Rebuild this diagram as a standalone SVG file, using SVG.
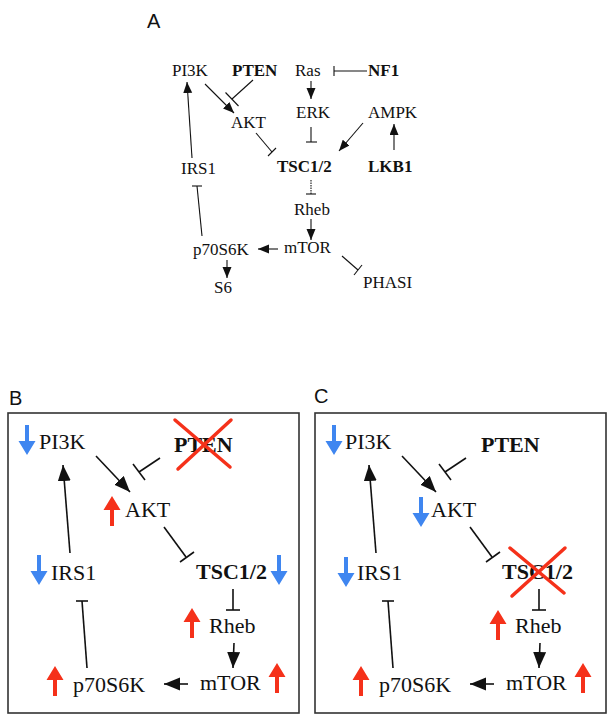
<svg xmlns="http://www.w3.org/2000/svg" xmlns:xlink="http://www.w3.org/1999/xlink" width="614" height="723" viewBox="0 0 614 723">
<style>
.a{font-family:"Liberation Serif","Times New Roman",serif;font-size:17px;fill:#111}
.b{font-family:"Liberation Serif","Times New Roman",serif;font-size:22px;fill:#111}
.bold{font-weight:bold}
.lbl{font-family:"Liberation Sans",Arial,sans-serif;font-size:20px;fill:#111}
.ca{stroke:#111;stroke-width:1.1;fill:none}
.cb{stroke:#111;stroke-width:1.6;fill:none}
.arA{marker-end:url(#hA)}
.arB{marker-end:url(#hB)}
.box{fill:none;stroke:#333;stroke-width:1.6}
.x{stroke:#f5311a;stroke-width:3.5;stroke-linecap:round}
.up{fill:#f5311a}
.dn{fill:#3f86f0}
</style>
<defs>
<marker id="hA" markerUnits="userSpaceOnUse" markerWidth="14" markerHeight="12" refX="11" refY="4.5" orient="auto"><path d="M0,0 L11,4.5 L0,9 z" fill="#111"/></marker>
<marker id="hB" markerUnits="userSpaceOnUse" markerWidth="18" markerHeight="16" refX="16" refY="6.5" orient="auto"><path d="M0,0 L16,6.5 L0,13 z" fill="#111"/></marker>
<path id="upArr" d="M0,0 L8.5,14 H2 V30 H-2 V14 H-8.5 z"/>
<path id="dnArr" d="M0,30 L8.5,16 H2 V0 H-2 V16 H-8.5 z"/>
</defs>

<text class="lbl" x="147" y="28" font-size="21">A</text>

<g id="panelA">
<g id="connectorsA">
<line class="ca arA" x1="192" y1="158" x2="187" y2="82"/>
<line class="ca arA" x1="205" y1="84" x2="234" y2="113"/>
<line class="ca" x1="253" y1="80" x2="232" y2="99"/>
<line class="ca" x1="225.5" y1="92.5" x2="238.5" y2="106"/>
<line class="ca arA" x1="311" y1="81" x2="311" y2="99"/>
<line class="ca" x1="311" y1="127" x2="311" y2="142"/>
<line class="ca" x1="306" y1="142" x2="317" y2="142"/>
<line class="ca arA" x1="363" y1="123" x2="339" y2="151"/>
<line class="ca arA" x1="394" y1="150" x2="394" y2="124"/>
<line class="ca" x1="256" y1="133" x2="272" y2="152"/>
<line class="ca" x1="268" y1="156" x2="276" y2="148"/>
<line class="ca" x1="334" y1="71" x2="367" y2="71"/>
<line class="ca" x1="334" y1="66" x2="334" y2="76"/>
<line class="ca" x1="311" y1="180" x2="311" y2="194" stroke-dasharray="1.5,1"/>
<line class="ca" x1="306" y1="194" x2="316" y2="194"/>
<line class="ca arA" x1="311" y1="219" x2="311" y2="240"/>
<line class="ca arA" x1="278" y1="249" x2="258" y2="249"/>
<line class="ca" x1="202" y1="236" x2="197" y2="186"/>
<line class="ca" x1="192" y1="186" x2="202" y2="186"/>
<line class="ca arA" x1="227" y1="260" x2="227" y2="278"/>
<line class="ca" x1="342" y1="256" x2="358" y2="270"/>
<line class="ca" x1="354" y1="275" x2="362" y2="265"/>
</g>
<g id="A-PI3K"><text class="a" x="172" y="76">PI3K</text></g>
<g id="A-PTEN"><text class="a bold" x="232" y="76">PTEN</text></g>
<g id="A-Ras"><text class="a" x="295" y="76">Ras</text></g>
<g id="A-NF1"><text class="a bold" x="368" y="76">NF1</text></g>
<g id="A-AKT"><text class="a" x="231" y="128">AKT</text></g>
<g id="A-ERK"><text class="a" x="296" y="118">ERK</text></g>
<g id="A-AMPK"><text class="a" x="368" y="118">AMPK</text></g>
<g id="A-IRS1"><text class="a" x="181" y="174">IRS1</text></g>
<g id="A-TSC"><text class="a bold" x="277" y="172">TSC1/2</text></g>
<g id="A-LKB1"><text class="a bold" x="368" y="172">LKB1</text></g>
<g id="A-Rheb"><text class="a" x="294" y="215">Rheb</text></g>
<g id="A-mTOR"><text class="a" x="284" y="253">mTOR</text></g>
<g id="A-p70S6K"><text class="a" x="193" y="255">p70S6K</text></g>
<g id="A-S6"><text class="a" x="214" y="293">S6</text></g>
<g id="A-PHASI"><text class="a" x="363" y="288">PHASI</text></g>
</g>

<text class="lbl" x="9" y="405">B</text>
<g id="panelB">
<rect class="box" x="8" y="413" width="291" height="300"/>
<g id="connectorsB">
<line class="cb arB" x1="70" y1="553" x2="63" y2="465"/>
<line class="cb arB" x1="96" y1="456" x2="130" y2="492"/>
<line class="cb" x1="160" y1="458" x2="139" y2="472"/>
<line class="cb" x1="133" y1="464" x2="145" y2="480"/>
<line class="cb" x1="164" y1="527" x2="186" y2="557"/>
<line class="cb" x1="180" y1="562" x2="194" y2="552"/>
<line class="cb" x1="233" y1="589" x2="233" y2="610"/>
<line class="cb" x1="226" y1="610" x2="240" y2="610"/>
<line class="cb arB" x1="234" y1="643" x2="233" y2="668"/>
<line class="cb arB" x1="188" y1="684" x2="164" y2="684"/>
<line class="cb" x1="87" y1="668" x2="82" y2="601"/>
<line class="cb" x1="76" y1="601" x2="88" y2="601"/>
</g>
<g id="B-PI3K"><use href="#dnArr" class="dn" x="27" y="425"/><text class="b" x="39" y="449">PI3K</text></g>
<g id="B-PTEN"><text class="b bold" x="174" y="452">PTEN</text><line class="x" x1="175" y1="420" x2="230" y2="467"/><line class="x" x1="231" y1="420" x2="178" y2="469"/></g>
<g id="B-AKT"><use href="#upArr" class="up" x="112" y="496"/><text class="b" x="125" y="517">AKT</text></g>
<g id="B-IRS1"><use href="#dnArr" class="dn" x="39" y="555"/><text class="b" x="51" y="580">IRS1</text></g>
<g id="B-TSC"><text class="b bold" x="196" y="579">TSC1/2</text><use href="#dnArr" class="dn" x="279" y="555"/></g>
<g id="B-Rheb"><use href="#upArr" class="up" x="192" y="608"/><text class="b" x="209" y="633">Rheb</text></g>
<g id="B-mTOR"><text class="b" x="200" y="690">mTOR</text><use href="#upArr" class="up" x="277" y="663"/></g>
<g id="B-p70S6K"><use href="#upArr" class="up" x="55" y="666"/><text class="b" x="73" y="692">p70S6K</text></g>
</g>

<text class="lbl" x="314" y="403">C</text>
<g id="panelC" transform="translate(306,0)">
<rect class="box" x="9" y="413" width="291" height="300"/>
<g id="connectorsC">
<line class="cb arB" x1="70" y1="553" x2="63" y2="465"/>
<line class="cb arB" x1="96" y1="456" x2="130" y2="492"/>
<line class="cb" x1="160" y1="458" x2="139" y2="472"/>
<line class="cb" x1="133" y1="464" x2="145" y2="480"/>
<line class="cb" x1="164" y1="527" x2="186" y2="557"/>
<line class="cb" x1="180" y1="562" x2="194" y2="552"/>
<line class="cb" x1="233" y1="589" x2="233" y2="610"/>
<line class="cb" x1="226" y1="610" x2="240" y2="610"/>
<line class="cb arB" x1="234" y1="643" x2="233" y2="668"/>
<line class="cb arB" x1="188" y1="684" x2="164" y2="684"/>
<line class="cb" x1="87" y1="668" x2="82" y2="601"/>
<line class="cb" x1="76" y1="601" x2="88" y2="601"/>
</g>
<g id="C-PI3K"><use href="#dnArr" class="dn" x="28" y="425"/><text class="b" x="39" y="449">PI3K</text></g>
<g id="C-PTEN"><text class="b bold" x="175" y="452">PTEN</text></g>
<g id="C-AKT"><use href="#dnArr" class="dn" x="115" y="497"/><text class="b" x="125" y="517">AKT</text></g>
<g id="C-IRS1"><use href="#dnArr" class="dn" x="40" y="557"/><text class="b" x="51" y="580">IRS1</text></g>
<g id="C-TSC"><text class="b bold" x="196" y="579">TSC1/2</text><line class="x" x1="204" y1="548" x2="258" y2="593"/><line class="x" x1="259" y1="548" x2="206" y2="596"/></g>
<g id="C-Rheb"><use href="#upArr" class="up" x="192" y="610"/><text class="b" x="209" y="633">Rheb</text></g>
<g id="C-mTOR"><text class="b" x="200" y="690">mTOR</text><use href="#upArr" class="up" x="277" y="663"/></g>
<g id="C-p70S6K"><use href="#upArr" class="up" x="55" y="666"/><text class="b" x="73" y="692">p70S6K</text></g>
</g>
</svg>
